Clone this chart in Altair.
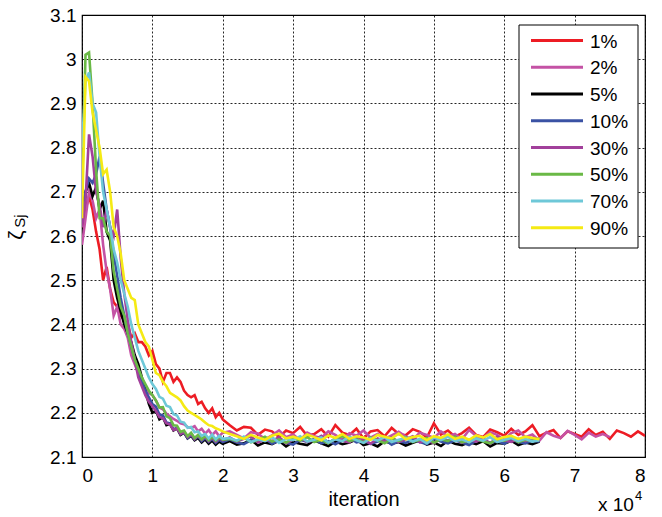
import altair as alt
import pandas as pd

# ---- data ----
X_EARLY = list(range(0, 20001, 500))        # 41 points
X_LATE = list(range(21000, 80001, 1000))    # 60 points
X_GRID = X_EARLY + X_LATE

LABELS = ["1%", "2%", "5%", "10%", "30%", "50%", "70%", "90%"]
COLORS = ["#ed1c24", "#c452a5", "#000000", "#3a52a4", "#a2409b", "#6ab946", "#6ec8d8", "#f5ea14"]

p1 = [2.62, 2.66, 2.69, 2.66, 2.61, 2.57, 2.50, 2.53, 2.48, 2.45,
      2.44, 2.42, 2.41, 2.40, 2.37, 2.38, 2.36, 2.36, 2.35, 2.33,
      2.34, 2.31, 2.30, 2.27, 2.29, 2.29, 2.27, 2.28, 2.27, 2.25,
      2.24, 2.235, 2.24, 2.22, 2.225, 2.21, 2.20, 2.21, 2.19, 2.20,
      2.185,
      2.172, 2.160, 2.168, 2.166, 2.150, 2.162, 2.158, 2.145, 2.160, 2.154,
      2.168, 2.148, 2.152, 2.163, 2.146, 2.172, 2.155, 2.150, 2.164, 2.142,
      2.158, 2.161, 2.147, 2.166, 2.152, 2.149, 2.163, 2.157, 2.144, 2.176,
      2.151, 2.160, 2.146, 2.154, 2.166, 2.150, 2.145, 2.162, 2.156, 2.148,
      2.164, 2.150, 2.158, 2.172, 2.147, 2.155, 2.161, 2.143, 2.158, 2.152,
      2.146, 2.163, 2.150, 2.157, 2.141, 2.160, 2.154, 2.146, 2.158, 2.148]

p2 = [2.58, 2.64, 2.70, 2.68, 2.64, 2.66, 2.58, 2.52, 2.48, 2.42,
      2.44, 2.40, 2.39, 2.37, 2.33, 2.31, 2.29, 2.27, 2.26, 2.245,
      2.24, 2.228, 2.212, 2.208, 2.198, 2.192, 2.186, 2.182, 2.176, 2.174,
      2.168, 2.166, 2.170, 2.158, 2.164, 2.153, 2.161, 2.150, 2.158, 2.147,
      2.155,
      2.158, 2.150, 2.142, 2.156, 2.153, 2.140, 2.149, 2.160, 2.145, 2.151,
      2.138, 2.155, 2.147, 2.143, 2.158, 2.150, 2.139, 2.154, 2.148, 2.160,
      2.144, 2.152, 2.141, 2.149, 2.157, 2.146, 2.139, 2.155, 2.150, 2.143,
      2.158, 2.147, 2.152, 2.140, 2.161, 2.148, 2.143, 2.156, 2.150, 2.138,
      2.154, 2.160, 2.145, 2.151, 2.137, 2.156, 2.148, 2.143, 2.159, 2.150,
      2.140, 2.155, 2.146, 2.152, 2.145]

p5 = [2.66, 2.70, 2.72, 2.69, 2.71, 2.66, 2.68, 2.61, 2.59, 2.50,
      2.46, 2.43, 2.40, 2.38, 2.36, 2.33, 2.31, 2.28, 2.25, 2.22,
      2.20, 2.205, 2.185, 2.19, 2.172, 2.175, 2.16, 2.165, 2.15, 2.155,
      2.142, 2.148, 2.138, 2.143, 2.133, 2.14, 2.13, 2.137, 2.128, 2.135,
      2.13,
      2.136, 2.128, 2.131, 2.139, 2.126, 2.133, 2.129, 2.137, 2.124, 2.134,
      2.130, 2.127, 2.138, 2.131, 2.125, 2.135, 2.129, 2.133, 2.140, 2.127,
      2.131, 2.124, 2.136, 2.130, 2.134, 2.126, 2.132, 2.138, 2.128, 2.133,
      2.125, 2.137, 2.130, 2.127, 2.134, 2.129, 2.136, 2.124, 2.132, 2.130,
      2.137, 2.127, 2.133, 2.129, 2.135]

p10 = [2.63, 2.70, 2.73, 2.72, 2.74, 2.78, 2.72, 2.66, 2.62, 2.56,
       2.51, 2.46, 2.42, 2.38, 2.35, 2.32, 2.29, 2.27, 2.25, 2.235,
       2.22, 2.214, 2.196, 2.194, 2.178, 2.176, 2.163, 2.166, 2.152, 2.156,
       2.143, 2.150, 2.140, 2.147, 2.136, 2.143, 2.134, 2.141, 2.132, 2.139,
       2.134,
       2.140, 2.133, 2.129, 2.138, 2.135, 2.142, 2.130, 2.137, 2.132, 2.128,
       2.139, 2.134, 2.141, 2.131, 2.136, 2.129, 2.138, 2.143, 2.133, 2.137,
       2.130, 2.135, 2.140, 2.128, 2.136, 2.132, 2.139, 2.134, 2.129, 2.141,
       2.135, 2.131, 2.138, 2.133, 2.127, 2.137, 2.140, 2.132, 2.136, 2.130,
       2.139, 2.134, 2.131, 2.137, 2.135]

p30 = [2.62, 2.68, 2.83, 2.78, 2.70, 2.67, 2.62, 2.66, 2.62, 2.60,
       2.66, 2.55, 2.47, 2.41, 2.36, 2.32, 2.28, 2.26, 2.24, 2.225,
       2.215, 2.204, 2.190, 2.188, 2.176, 2.174, 2.161, 2.165, 2.152, 2.157,
       2.145, 2.152, 2.141, 2.149, 2.139, 2.146, 2.136, 2.144, 2.135, 2.143,
       2.138,
       2.144, 2.135, 2.141, 2.147, 2.133, 2.139, 2.136, 2.145, 2.131, 2.140,
       2.143, 2.134, 2.138, 2.148, 2.132, 2.141, 2.137, 2.133, 2.146, 2.139,
       2.130, 2.142, 2.136, 2.144, 2.134, 2.140, 2.147, 2.133, 2.138, 2.131,
       2.143, 2.137, 2.145, 2.132, 2.139, 2.135, 2.142, 2.130, 2.146, 2.138,
       2.134, 2.141, 2.136, 2.143, 2.139]

p50 = [2.70, 3.01, 3.015, 2.90, 2.75, 2.64, 2.64, 2.61, 2.60, 2.52,
       2.48, 2.44, 2.42, 2.38, 2.35, 2.32, 2.30, 2.28, 2.265, 2.25,
       2.24, 2.228, 2.212, 2.213, 2.192, 2.188, 2.172, 2.171, 2.157, 2.160,
       2.147, 2.155, 2.143, 2.150, 2.140, 2.148, 2.138, 2.146, 2.137, 2.145,
       2.139,
       2.141, 2.136, 2.144, 2.133, 2.139, 2.146, 2.135, 2.140, 2.132, 2.143,
       2.137, 2.145, 2.134, 2.139, 2.131, 2.142, 2.147, 2.136, 2.140, 2.133,
       2.144, 2.138, 2.131, 2.141, 2.136, 2.145, 2.134, 2.139, 2.143, 2.132,
       2.140, 2.136, 2.146, 2.133, 2.138, 2.142, 2.135, 2.131, 2.141, 2.137,
       2.144, 2.134, 2.139, 2.136, 2.142]

p70 = [2.80, 2.95, 2.97, 2.90, 2.88, 2.78, 2.70, 2.66, 2.62, 2.57,
       2.54, 2.50, 2.47, 2.44, 2.40, 2.37, 2.34, 2.32, 2.30, 2.28,
       2.265, 2.254, 2.236, 2.232, 2.216, 2.213, 2.197, 2.194, 2.180, 2.178,
       2.166, 2.168, 2.156, 2.158, 2.148, 2.152, 2.142, 2.151, 2.140, 2.148,
       2.141,
       2.143, 2.137, 2.146, 2.134, 2.140, 2.136, 2.145, 2.132, 2.141, 2.138,
       2.147, 2.135, 2.139, 2.144, 2.133, 2.140, 2.136, 2.146, 2.138, 2.132,
       2.142, 2.137, 2.145, 2.134, 2.139, 2.143, 2.135, 2.141, 2.131, 2.144,
       2.138, 2.146, 2.136, 2.140, 2.133, 2.142, 2.137, 2.145, 2.134, 2.139,
       2.143, 2.136, 2.141, 2.135, 2.138]

p90 = [2.64, 2.96, 2.95, 2.88, 2.84, 2.80, 2.74, 2.75, 2.70, 2.62,
       2.60, 2.56, 2.50, 2.48, 2.46, 2.455, 2.40, 2.38, 2.36, 2.35,
       2.32, 2.29, 2.285, 2.27, 2.26, 2.245, 2.24, 2.235, 2.228, 2.215,
       2.205, 2.20, 2.195, 2.19, 2.185, 2.178, 2.172, 2.17, 2.165, 2.162,
       2.158,
       2.152, 2.147, 2.141, 2.150, 2.144, 2.139, 2.148, 2.153, 2.142, 2.146,
       2.140, 2.151, 2.145, 2.138, 2.149, 2.143, 2.152, 2.141, 2.147, 2.144,
       2.139, 2.150, 2.146, 2.142, 2.153, 2.140, 2.145, 2.148, 2.138, 2.147,
       2.143, 2.151, 2.141, 2.146, 2.139, 2.149, 2.144, 2.152, 2.140, 2.145,
       2.148, 2.141, 2.146, 2.143, 2.140]

SERIES = [p1, p2, p5, p10, p30, p50, p70, p90]

rows = []
for k, (lab, vals) in enumerate(zip(LABELS, SERIES)):
    for i, v in enumerate(vals):
        rows.append({"iter": X_GRID[i], "zeta": v, "level": lab, "k": k})
df = pd.DataFrame(rows)
legend_df = pd.DataFrame({"level": LABELS, "k": list(range(len(LABELS)))})

FONT = "Liberation Sans"
Y_TICKS = [2.1, 2.2, 2.3, 2.4, 2.5, 2.6, 2.7, 2.8, 2.9, 3.0, 3.1]
X_TICKS = list(range(0, 80001, 10000))
color_scale = alt.Scale(domain=LABELS, range=COLORS)

lines = alt.Chart(df).mark_line(strokeWidth=2.6, clip=True).encode(
    x=alt.X("iter:Q",
            scale=alt.Scale(domain=[0, 80000], nice=False),
            axis=alt.Axis(values=X_TICKS, labelExpr="datum.value / 10000",
                          title="iteration", titleFontSize=20, titleFont=FONT,
                          titleFontWeight="normal", titlePadding=4,
                          labelFontSize=19, labelFont=FONT, labelPadding=9,
                          grid=True, ticks=False, domain=False)),
    y=alt.Y("zeta:Q",
            scale=alt.Scale(domain=[2.1, 3.1], nice=False, zero=False),
            axis=alt.Axis(values=Y_TICKS,
                          labelExpr="toString(round(datum.value * 10) / 10)",
                          title=None, labelFontSize=19, labelFont=FONT,
                          labelPadding=6, grid=True, ticks=False, domain=False)),
    color=alt.Color("level:N", scale=color_scale, legend=None),
    order=alt.Order("k:Q"),
)

# ---- MATLAB-style legend box (inside the plot, top right) ----
leg_box = alt.Chart(pd.DataFrame({"b": [0]})).mark_rect(
    fill="white", stroke="black", strokeWidth=1
).encode(x=alt.value(437), x2=alt.value(556), y=alt.value(10), y2=alt.value(233))

leg_base = alt.Chart(legend_df).transform_calculate(ypix="25.5 + datum.k * 26.75")
leg_lines = leg_base.mark_rule(strokeWidth=3).encode(
    x=alt.value(449), x2=alt.value(501),
    y=alt.Y("ypix:Q", scale=None),
    color=alt.Color("level:N", scale=color_scale, legend=None),
)
leg_text = leg_base.mark_text(font=FONT, fontSize=19, align="left", baseline="middle",
                              color="black", dy=1).encode(
    x=alt.value(508), y=alt.Y("ypix:Q", scale=None), text="level:N",
)

def txt(s, x, y, size, angle=0, align="left", baseline="alphabetic"):
    return alt.Chart(pd.DataFrame({"t": [s]})).mark_text(
        font=FONT, fontSize=size, color="black", angle=angle,
        align=align, baseline=baseline
    ).encode(text="t:N", x=alt.value(x), y=alt.value(y))

exp_x = txt("x 10", 516, 496, 19)
exp_4 = txt("4", 553, 485, 13)
ylab_z = txt("ζ", -65, 220, 21, angle=270, align="center", baseline="middle")
ylab_s = txt("Sj", -62, 206, 15, angle=270, align="center", baseline="middle")

chart = alt.layer(lines, leg_box, leg_lines, leg_text, exp_x, exp_4, ylab_z, ylab_s).properties(
    width=563, height=442,
    padding={"left": 82, "top": 15, "right": 17, "bottom": 60},
    autosize=alt.AutoSizeParams(type="none"),
    background="white",
).configure_view(stroke="black", strokeWidth=1.2).configure_axis(
    gridColor="black", gridDash=[2, 2], gridOpacity=0.85, gridWidth=1,
    labelColor="black", titleColor="black"
)

chart.save("out.html", embed_options={"renderer": "svg", "actions": False})
